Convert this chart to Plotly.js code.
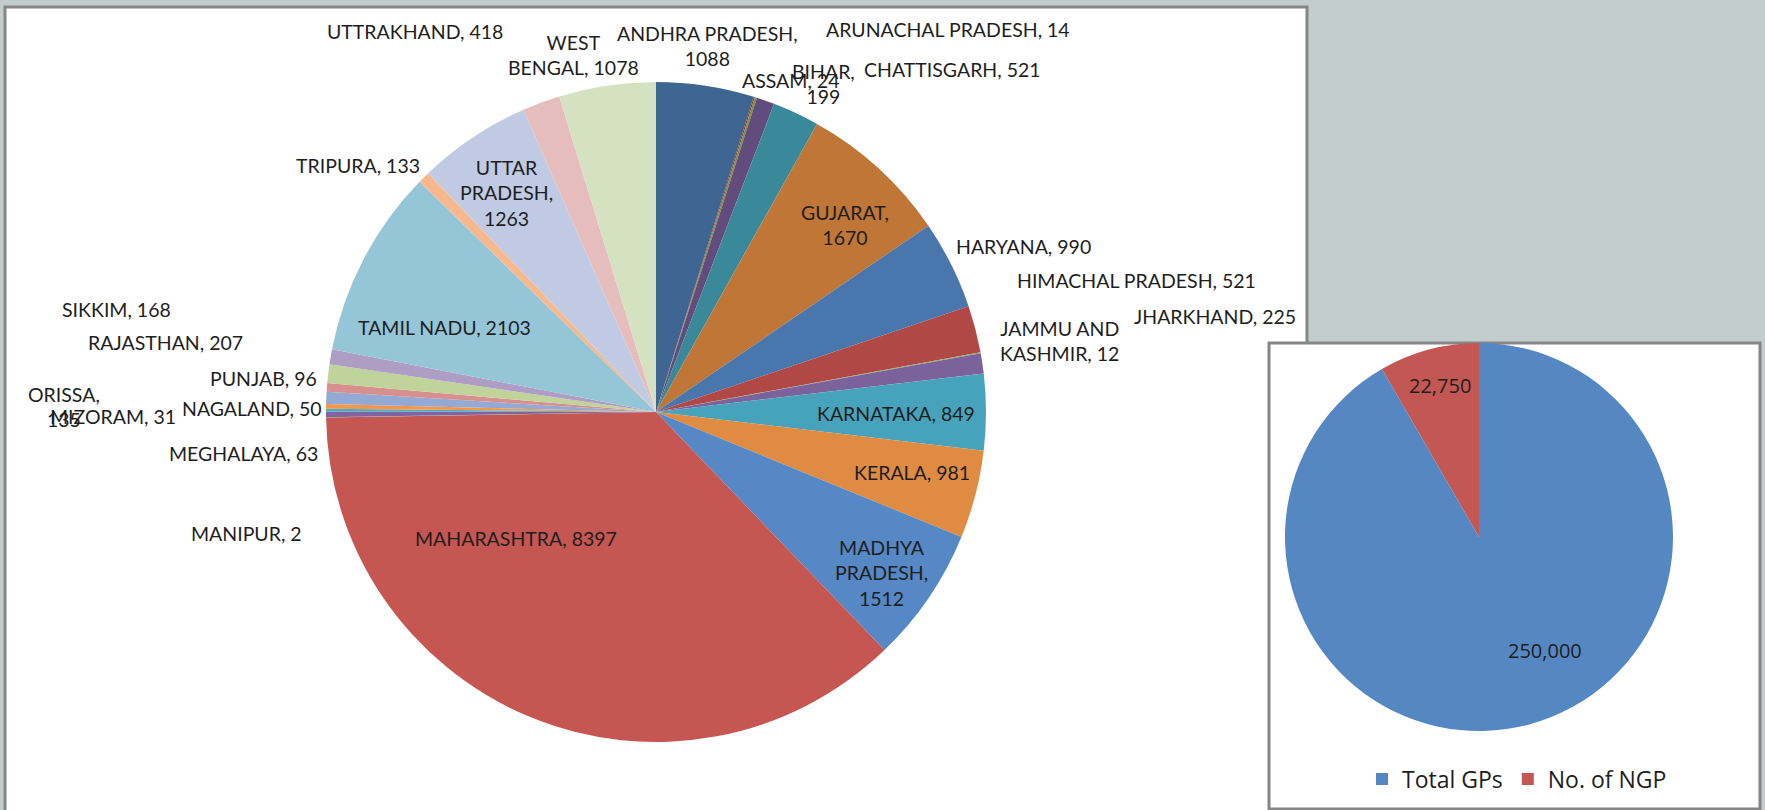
<!DOCTYPE html>
<html>
<head>
<meta charset="utf-8">
<script src="https://cdn.plot.ly/plotly-3.0.1.min.js"></script>
<style>
  html, body { margin: 0; padding: 0; background: #C3CECC; }
  #chart { width: 1765px; height: 810px; }
</style>
</head>
<body>
<div id="chart"></div>
<script>
// ---- data ----
const states = ['ANDHRA PRADESH', 'ARUNACHAL PRADESH', 'ASSAM', 'BIHAR', 'CHATTISGARH', 'GUJARAT',
  'HARYANA', 'HIMACHAL PRADESH', 'JAMMU AND KASHMIR', 'JHARKHAND', 'KARNATAKA', 'KERALA',
  'MADHYA PRADESH', 'MAHARASHTRA', 'MANIPUR', 'MEGHALAYA', 'MIZORAM', 'NAGALAND', 'ORISSA',
  'PUNJAB', 'RAJASTHAN', 'SIKKIM', 'TAMIL NADU', 'TRIPURA', 'UTTAR PRADESH', 'UTTRAKHAND', 'WEST BENGAL'];
const ngpCounts = [1088, 14, 24, 199, 521, 1670, 990, 521, 12, 225, 849, 981,
  1512, 8397, 2, 63, 31, 50, 135, 96, 207, 168, 2103, 133, 1263, 418, 1078];
const stateColors = ['#3F6592', '#953735', '#77933C', '#624C7E', '#3A899A', '#BF7636',
  '#4876AD', '#B04946', '#93AC5A', '#7C629C', '#47A3BB', '#E08B42',
  '#5588C4', '#C55652', '#9BBB59', '#8064A2', '#4BACC6', '#F79646', '#94AAD4',
  '#D8908E', '#BFD39A', '#AE9EC6', '#95C6D7', '#F8B88E', '#C0CBE3', '#E5BDBD', '#D5E2C2'];

const summaryLabels = ['Total GPs', 'No. of NGP'];
const summaryValues = [250000, 22750];
const summaryColors = ['#5588C3', '#C35754'];

// ---- label layout (pixel centres, and words per line) ----
const W = 1765, H = 810;
const labelPlace = [
  [707, 46, [2, 1]], [948, 30, [3]], [790, 81, [2]], [823, 84, [1, 1]], [952, 70, [2]],
  [844.5, 224.5, [1, 1]], [1024, 247, [2]], [1136, 280, [3]], [1059, 341, [2, 2]],
  [1215, 316.5, [2]], [896, 413, [2]], [912, 472, [2]], [881, 573, [1, 1, 1]],
  [516, 538, [2]], [246.5, 533, [2]], [243, 453, [2]], [112.5, 416.5, [2]],
  [252, 408.5, [2]], [64, 407, [1, 1]], [263, 378, [2]], [165, 343, [2]],
  [116, 310, [2]], [444, 327, [3]], [358, 165, [2]], [506, 193, [1, 1, 1]],
  [414.5, 31, [2]], [573, 54.5, [1, 2]]
];

function wrapLabel(name, value, counts) {
  const words = (name + ', ' + value).split(' ');
  const lines = [];
  let i = 0;
  counts.forEach(c => { lines.push(words.slice(i, i + c).join(' ')); i += c; });
  if (i < words.length) lines[lines.length - 1] += ' ' + words.slice(i).join(' ');
  return lines.join('<br>');
}

const labelFont = { family: 'Lato, "Noto Sans", sans-serif', size: 19.5, color: '#1E1E1E' };
const annotations = states.map((s, k) => ({
  xref: 'paper', yref: 'paper',
  x: labelPlace[k][0] / W, y: 1 - labelPlace[k][1] / H,
  xanchor: 'center', yanchor: 'middle',
  text: wrapLabel(s, ngpCounts[k], labelPlace[k][2]),
  showarrow: false, font: labelFont, align: 'center'
}));

const summaryPlace = [[1544.5, 650], [1440, 385]];
summaryValues.forEach((v, k) => annotations.push({
  xref: 'paper', yref: 'paper',
  x: summaryPlace[k][0] / W, y: 1 - summaryPlace[k][1] / H,
  xanchor: 'center', yanchor: 'middle',
  text: v.toLocaleString('en-US'), showarrow: false,
  font: { family: '"Open Sans", sans-serif', size: 20, color: '#1E1E1E' }
}));

const mainCx = 656, mainCy = 412, mainR = 330;
const subCx = 1479, subCy = 537, subR = 194;

const traces = [
  {
    type: 'pie', labels: states, values: ngpCounts, sort: false,
    direction: 'clockwise', rotation: 0, textinfo: 'none', hoverinfo: 'label+value',
    marker: { colors: stateColors, line: { width: 0 } },
    showlegend: false,
    domain: { x: [(mainCx - mainR) / W, (mainCx + mainR) / W], y: [(H - mainCy - mainR) / H, (H - mainCy + mainR) / H] }
  },
  {
    type: 'pie', labels: summaryLabels, values: summaryValues, sort: false,
    direction: 'clockwise', rotation: 0, textinfo: 'none', hoverinfo: 'label+value',
    marker: { colors: summaryColors, line: { width: 0 } },
    showlegend: true,
    domain: { x: [(subCx - subR) / W, (subCx + subR) / W], y: [(H - subCy - subR) / H, (H - subCy + subR) / H] }
  }
];

const layout = {
  width: W, height: H,
  margin: { l: 0, r: 0, t: 0, b: 0 },
  paper_bgcolor: '#C3CECC',
  showlegend: true,
  legend: {
    orientation: 'h', x: 1362 / W, y: 1 - 779 / H, xanchor: 'left', yanchor: 'middle',
    font: { family: '"Open Sans", sans-serif', size: 23, color: '#1E1E1E' },
    bgcolor: 'rgba(0,0,0,0)', itemclick: false, itemdoubleclick: false
  },
  shapes: [
    { type: 'rect', xref: 'paper', yref: 'paper', layer: 'below',
      x0: 5 / W, x1: 1307 / W, y0: -0.02, y1: 1 - 7 / H,
      fillcolor: '#FFFFFF', line: { color: '#868686', width: 3 } },
    { type: 'rect', xref: 'paper', yref: 'paper', layer: 'below',
      x0: 1269 / W, x1: 1760 / W, y0: 1 - 809 / H, y1: 1 - 343 / H,
      fillcolor: '#FFFFFF', line: { color: '#868686', width: 3 } }
  ],
  annotations: annotations
};

Plotly.newPlot('chart', traces, layout, { displayModeBar: false, staticPlot: true });
</script>
</body>
</html>
